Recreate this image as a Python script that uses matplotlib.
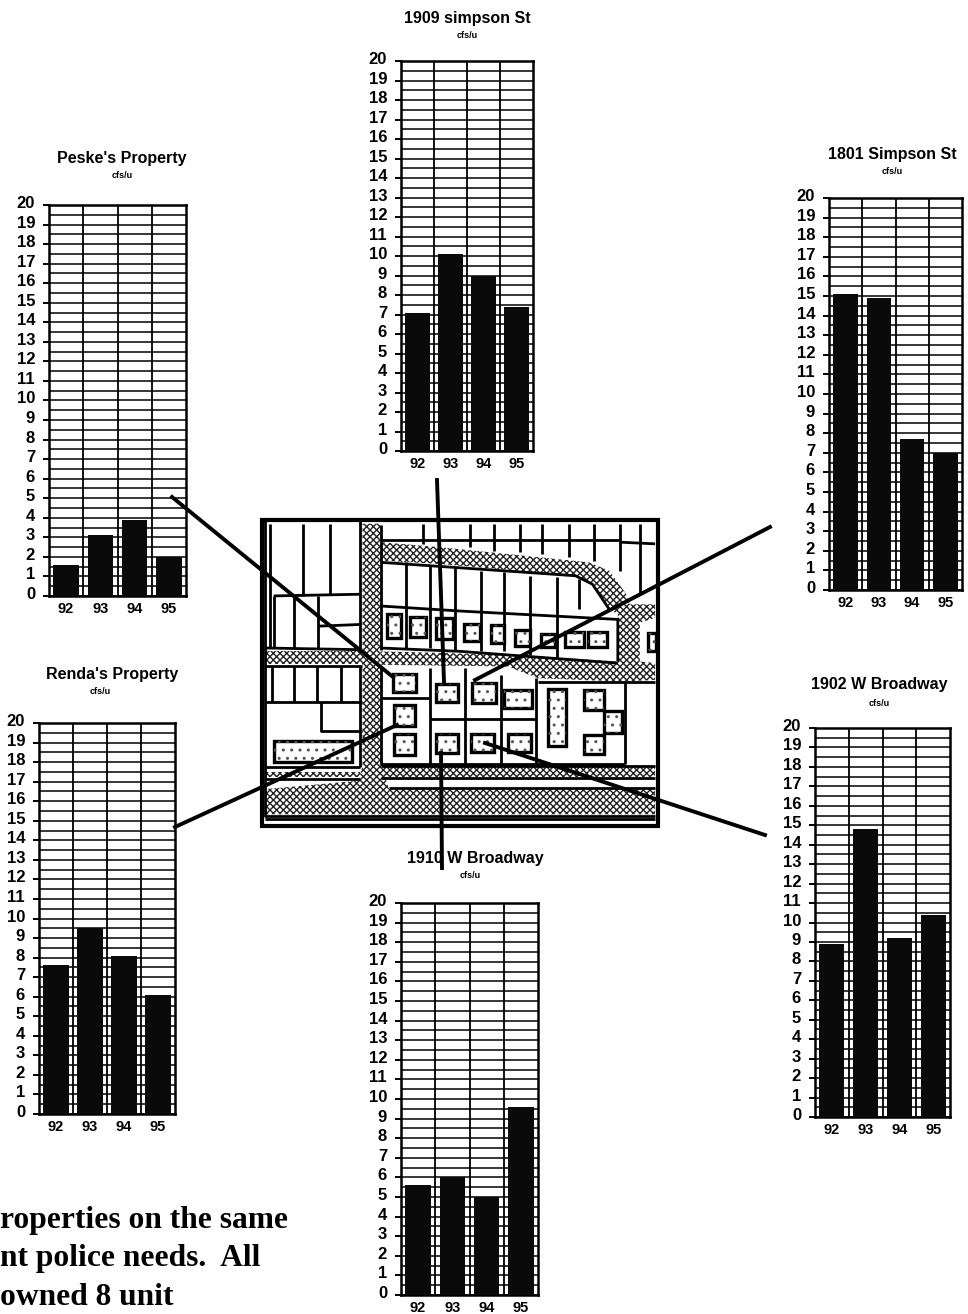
import matplotlib
matplotlib.use('Agg')
import matplotlib.pyplot as plt
from matplotlib.patches import Polygon, Rectangle
from matplotlib.transforms import ScaledTranslation

plt.rcParams['font.family'] = ['Liberation Sans', 'DejaVu Sans']
plt.rcParams['hatch.linewidth'] = 1.0

W, H = 968, 1314

# valores de cada grafica
years = ['92', '93', '94', '95']
simpson_1909 = [7.1, 10.1, 9.0, 7.4]
peske = [1.6, 3.1, 3.9, 2.0]
simpson_1801 = [15.1, 14.9, 7.7, 7.0]
broadway_1902 = [8.9, 14.8, 9.2, 10.4]
renda = [7.6, 9.5, 8.1, 6.1]
broadway_1910 = [5.6, 6.0, 5.0, 9.6]
y_ticks = list(range(21))
minor_ticks = [i + 0.5 for i in range(20)]


def grafica(fig, caja, valores, titulo, pos_titulo, pos_sub):
    # caja en pixeles: izquierda, derecha, arriba, abajo
    x0, x1, y0, y1 = caja
    ax = fig.add_axes([x0 / W, 1 - y1 / H, (x1 - x0) / W, (y1 - y0) / H])
    ax.bar(range(4), valores, width=0.74, color='#0a0a0a', zorder=3)
    ax.set_xlim(-0.5, 3.5)
    ax.set_ylim(0, 20)
    ax.set_yticks(y_ticks)
    ax.set_yticklabels([str(t) for t in y_ticks], fontsize=12, fontweight='bold')
    ax.set_yticks(minor_ticks, minor=True)
    ax.set_xticks(range(4))
    ax.set_xticklabels(years, fontsize=10.5, fontweight='bold')
    ax.tick_params(axis='y', which='major', length=4, width=1.4, pad=6)
    ax.tick_params(axis='y', which='minor', length=0)
    ax.tick_params(axis='x', length=0, pad=4)
    # las etiquetas del eje quedan un poco por encima de la marca
    subir = ScaledTranslation(0, 3 / 100, fig.dpi_scale_trans)
    for etiqueta in ax.get_yticklabels():
        etiqueta.set_transform(etiqueta.get_transform() + subir)
    ax.grid(True, axis='y', which='both', color='black', linewidth=1.1, zorder=1)
    for s in [0.5, 1.5, 2.5]:
        ax.axvline(s, color='black', linewidth=1.3, zorder=2)
    for lado in ax.spines.values():
        lado.set_linewidth(1.8)
    fig.text(pos_titulo[0] / W, 1 - pos_titulo[1] / H, titulo, fontsize=11.5,
             fontweight='bold', ha='center', va='center')
    fig.text(pos_sub[0] / W, 1 - pos_sub[1] / H, 'cfs/u', fontsize=6.5,
             fontweight='bold', ha='center', va='center')


fig = plt.figure(figsize=(W / 100, H / 100), dpi=100, facecolor='white')

grafica(fig, (401, 533, 61, 451), simpson_1909, '1909 simpson St', (467, 18), (467, 36))
grafica(fig, (49, 186, 205, 596), peske, "Peske's Property", (122, 158), (122, 175))
grafica(fig, (829, 962, 198, 590), simpson_1801, '1801 Simpson St', (892, 154), (892, 172))
grafica(fig, (815, 950, 728, 1117), broadway_1902, '1902 W Broadway', (879, 684), (879, 703))
grafica(fig, (39, 175, 723, 1114), renda, "Renda's Property", (112, 674), (100, 691))
grafica(fig, (401, 538, 903, 1295), broadway_1910, '1910 W Broadway', (475, 858), (470, 875))

# capa del mapa, en pixeles de la imagen
mapa = fig.add_axes([0, 0, 1, 1], zorder=5)
mapa.set_xlim(0, W)
mapa.set_ylim(H, 0)
mapa.axis('off')

ESC_X = 0.339
ESC_Y = 0.336


def zx(p):
    return (250 + p[0] * ESC_X, 480 + p[1] * ESC_Y)


caminos = [
    [(332, 130), (385, 130), (385, 840), (410, 920), (1195, 920), (1195, 995), (45, 995), (45, 920), (320, 895), (332, 850)],
    [(385, 185), (560, 200), (1000, 245), (1060, 270), (1110, 340), (1120, 370), (1195, 370), (1195, 410), (1150, 425),
     (1150, 540), (1195, 545), (1195, 595), (1100, 600), (850, 590), (760, 555), (385, 550), (385, 510), (760, 520),
     (1085, 540), (1085, 400), (1060, 385), (1010, 310), (960, 285), (560, 250), (385, 240)],
    [(45, 510), (332, 510), (332, 548), (45, 548)],
    [(385, 855), (1195, 855), (1195, 885), (385, 885)],
    [(45, 868), (325, 868), (325, 885), (45, 885)],
]
for c in caminos:
    mapa.add_patch(Polygon([zx(p) for p in c], closed=True, facecolor='white',
                           edgecolor='#222222', hatch='xxxxx', linewidth=0))

lineas = [
    [(45, 120), (45, 1000), (1195, 1000)],
    [(60, 130), (60, 500)], [(155, 130), (155, 345)], [(235, 130), (235, 340)],
    [(70, 345), (325, 340)], [(70, 345), (70, 500)], [(130, 345), (130, 500)], [(200, 345), (200, 500)],
    [(200, 435), (325, 430)], [(45, 500), (325, 505)], [(325, 120), (325, 505)],
    [(45, 555), (330, 555)], [(65, 555), (65, 660)], [(130, 555), (130, 660)], [(198, 555), (198, 660)],
    [(268, 555), (268, 660)], [(45, 662), (330, 662)], [(210, 662), (210, 748), (330, 748)],
    [(45, 855), (325, 855)], [(45, 890), (325, 890)], [(325, 555), (325, 855)],
    [(385, 135), (385, 505)], [(385, 180), (1090, 180)], [(510, 130), (510, 190)], [(650, 130), (650, 200)],
    [(720, 130), (720, 210)], [(795, 130), (795, 215)], [(860, 130), (860, 220)], [(940, 130), (940, 230)],
    [(1015, 130), (1015, 240)], [(1090, 130), (1090, 270)], [(1150, 130), (1150, 340)], [(1090, 185), (1195, 190)],
    [(385, 245), (960, 285), (1010, 310), (1060, 385)], [(460, 245), (460, 500)], [(530, 255), (530, 500)],
    [(605, 262), (605, 505)], [(680, 270), (680, 510)], [(750, 275), (750, 510)], [(825, 285), (825, 520)],
    [(905, 290), (905, 530)], [(970, 295), (970, 385)],
    [(385, 375), (620, 390), (1085, 415), (1085, 540)], [(385, 500), (620, 510), (1085, 545)],
    [(385, 555), (385, 845), (1105, 845)], [(385, 650), (530, 650)], [(530, 560), (530, 845)],
    [(635, 560), (635, 845)], [(740, 580), (740, 845)], [(845, 590), (845, 845)],
    [(530, 710), (845, 710)], [(1105, 600), (1105, 845)], [(850, 600), (1195, 600)],
    [(385, 850), (1195, 850)], [(385, 888), (1195, 888)], [(410, 918), (1195, 918)],
    [(45, 1008), (1195, 1008)],
]
for l in lineas:
    xs = [zx(p)[0] for p in l]
    ys = [zx(p)[1] for p in l]
    mapa.plot(xs, ys, color='black', linewidth=2.0, solid_capstyle='butt')

# marco del mapa
borde = [zx(p) for p in [(35, 120), (1205, 120), (1205, 1030), (35, 1030)]]
mapa.add_patch(Polygon(borde, closed=True, facecolor='none', edgecolor='black', linewidth=3.0, zorder=3))

edificios = [
    (405, 400, 40, 70), (472, 408, 48, 58), (550, 412, 48, 60), (632, 430, 45, 48), (712, 432, 38, 52),
    (782, 445, 45, 50), (857, 458, 42, 40), (930, 452, 55, 46), (998, 452, 55, 46), (1175, 455, 22, 55),
    (423, 577, 68, 55), (548, 607, 67, 55), (655, 605, 70, 60), (750, 625, 82, 55),
    (425, 670, 62, 62), (425, 757, 62, 60), (548, 757, 67, 55), (652, 755, 68, 55), (760, 755, 68, 55),
    (878, 622, 55, 170), (985, 625, 60, 60), (1045, 687, 52, 65), (985, 760, 60, 55), (72, 778, 230, 60),
]
for e in edificios:
    x, y = zx(e[:2])
    mapa.add_patch(Rectangle((x, y), e[2] * ESC_X, e[3] * ESC_Y, facecolor='white', edgecolor='black',
                             linewidth=2.4, zorder=3))
    mapa.add_patch(Rectangle((x, y), e[2] * ESC_X, e[3] * ESC_Y, facecolor='none', edgecolor='#555555',
                             hatch='..', linewidth=0, zorder=3))

# lineas que unen cada grafica con su edificio
guias = [
    [(172, 497), (393, 677)],
    [(437, 480), (444, 682)],
    [(770, 527), (475, 680)],
    [(485, 743), (765, 835)],
    [(175, 827), (397, 725)],
    [(441, 753), (442, 868)],
]
for g in guias:
    mapa.plot([g[0][0], g[1][0]], [g[0][1], g[1][1]], color='black', linewidth=2.8, zorder=4)

# texto cortado por el borde de la pagina
parrafo = ['roperties on the same', 'nt police needs.  All', 'owned 8 unit']
for linea, y in zip(parrafo, [1228, 1266, 1305]):
    mapa.text(0, y, linea, family='Liberation Serif', fontweight='bold', fontsize=22.7, va='baseline', ha='left')

fig.savefig('out.png', dpi=100)
